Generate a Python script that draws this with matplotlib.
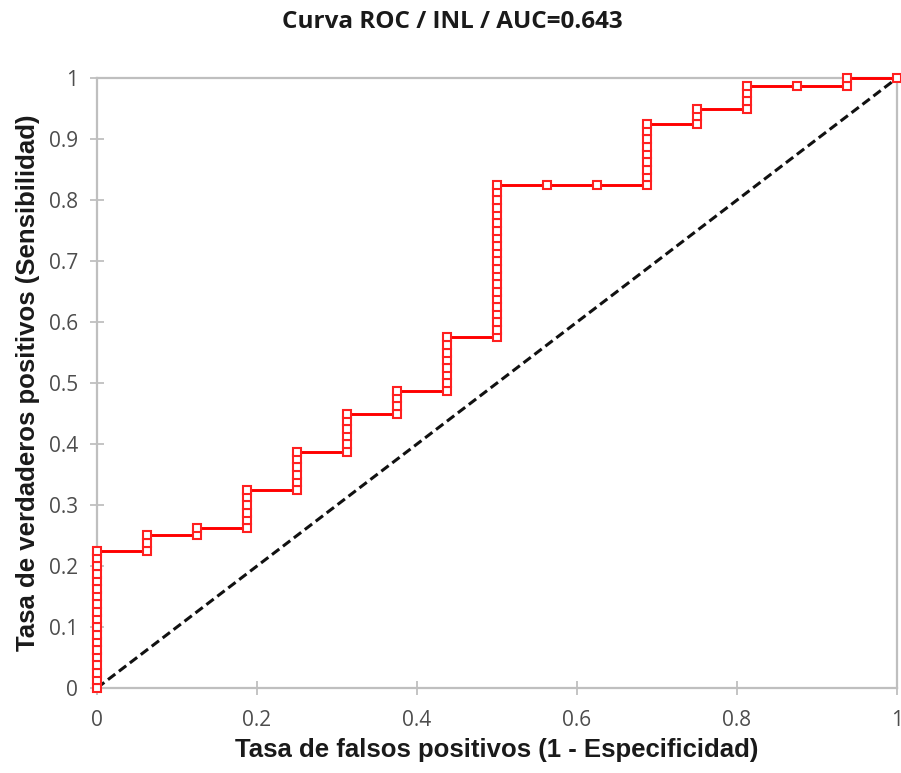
import matplotlib
matplotlib.use('Agg')
import matplotlib.pyplot as plt
import numpy as np

# ROC curve, 16 negatives / 80 positives
n_neg = 16
n_pos = 80

# one column per false-positive count: true-positive count at entry and at exit
fp_count = [0, 1, 2, 3, 4, 5, 6, 7, 8, 9, 10, 11, 12, 13, 14, 15, 16]
tp_from  = [0, 18, 20, 21, 26, 31, 36, 39, 46, 66, 66, 66, 74, 76, 79, 79, 80]
tp_to    = [18, 20, 21, 26, 31, 36, 39, 46, 66, 66, 66, 74, 76, 79, 79, 80, 80]

title = 'Curva ROC / INL / AUC=0.643'
xlabel = 'Tasa de falsos positivos (1 - Especificidad)'
ylabel = 'Tasa de verdaderos positivos (Sensibilidad)'
xticks = [0, 0.2, 0.4, 0.6, 0.8, 1]
xticklabels = ['0', '0.2', '0.4', '0.6', '0.8', '1']
yticks = [0, 0.1, 0.2, 0.3, 0.4, 0.5, 0.6, 0.7, 0.8, 0.9, 1]
yticklabels = ['0', '0.1', '0.2', '0.3', '0.4', '0.5', '0.6', '0.7', '0.8', '0.9', '1']

# build the point list (one point per classified case)
fpr, tpr = [], []
for f, a, b in zip(fp_count, tp_from, tp_to):
    for t in range(a, b + 1):
        fpr.append(f / n_neg)
        tpr.append(t / n_pos)

gray = '#bfbfbf'
fig = plt.figure(figsize=(9.01, 7.73), dpi=100)
ax = fig.add_axes([0.1077, 0.110, 0.8879, 0.789])

ax.plot([0, 1], [0, 1], color='#111111', lw=2.2, ls=(0, (3.0, 1.5)), zorder=2)
ax.plot(fpr, tpr, color='#ff0000', lw=2.1, marker='s', ms=5.6,
        mfc='white', mec='#ff2020', mew=1.5, zorder=3, clip_on=False)

ax.set_xlim(0, 1)
ax.set_ylim(0, 1)
ax.set_xticks(xticks)
ax.set_xticklabels(xticklabels)
ax.set_yticks(yticks)
ax.set_yticklabels(yticklabels)

for s in ax.spines.values():
    s.set_color(gray)
    s.set_linewidth(1.6)

ax.tick_params(direction='inout', length=9.5, width=1.3, color=gray,
               labelcolor='#4d4d4d', labelsize=15)
ax.tick_params(axis='x', pad=11)
ax.tick_params(axis='y', pad=9)
for lab in ax.get_xticklabels() + ax.get_yticklabels():
    lab.set_family('Open Sans')

ax.set_xlabel(xlabel, fontsize=18.5, fontweight='bold', family='Liberation Sans',
              color='#1a1a1a')
ax.set_ylabel(ylabel, fontsize=18.5, fontweight='bold', family='Liberation Sans',
              color='#1a1a1a')
ax.xaxis.label.set_va('center')
ax.yaxis.label.set_va('center')
ax.xaxis.set_label_coords(0.5, -0.102)
ax.yaxis.set_label_coords(-0.086, 0.5)
fig.text(0.502, 0.9715, title, ha='center', va='center', fontsize=17.5,
         fontweight='bold', family='Open Sans', color='#1a1a1a')

fig.savefig('out.png', dpi=100)
